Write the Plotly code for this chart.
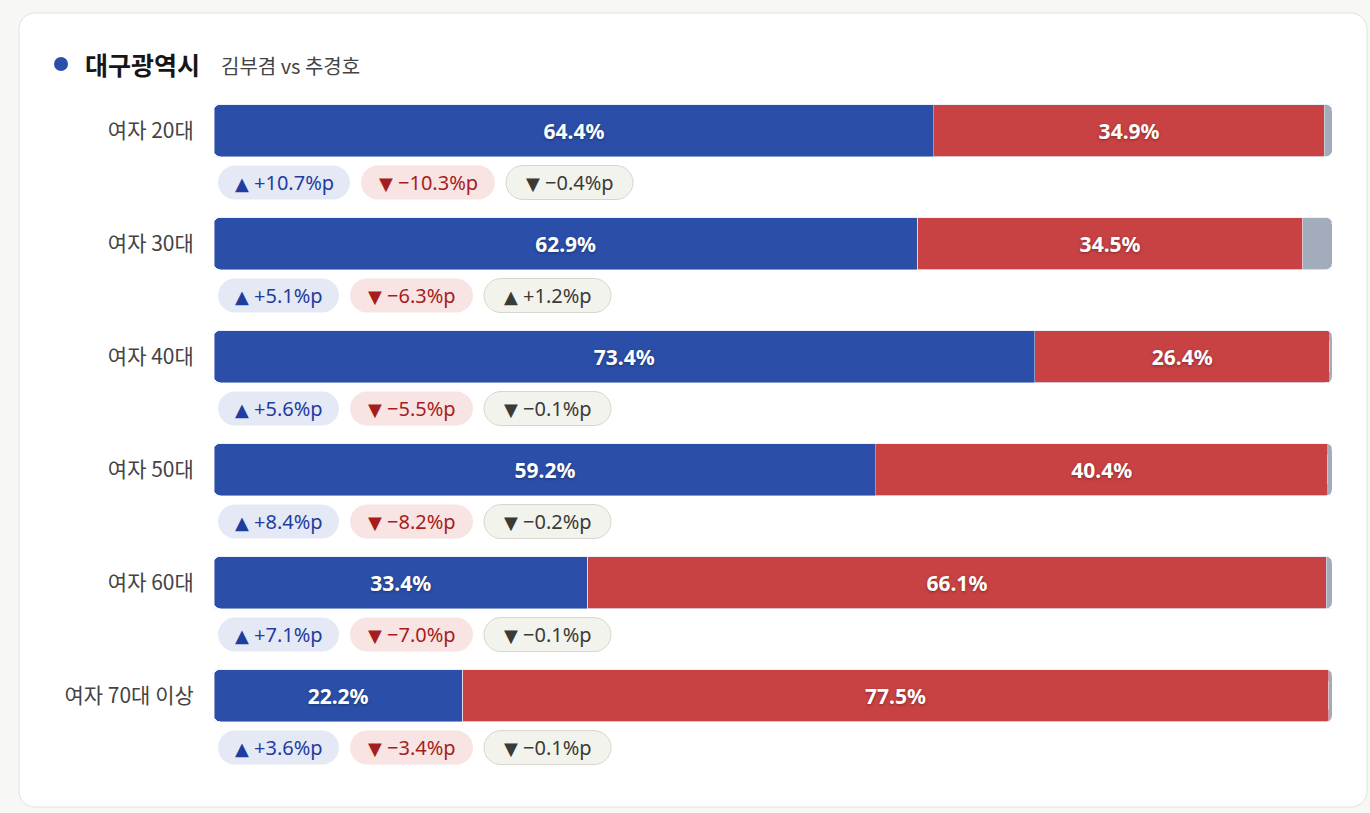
import plotly.graph_objects as go

# datos de la tarjeta
region = "대구광역시"
subtitle = "김부겸 vs 추경호"
groups = ["여자 20대", "여자 30대", "여자 40대", "여자 50대", "여자 60대", "여자 70대 이상"]
kim = [64.4, 62.9, 73.4, 59.2, 33.4, 22.2]
choo = [34.9, 34.5, 26.4, 40.4, 66.1, 77.5]
kim_diff = [10.7, 5.1, 5.6, 8.4, 7.1, 3.6]
choo_diff = [-10.3, -6.3, -5.5, -8.2, -7.0, -3.4]
other_diff = [-0.4, 1.2, -0.1, -0.2, -0.1, -0.1]

other = [round(100 - k - c, 1) for k, c in zip(kim, choo)]

BLUE = "#2b4fa8"
RED = "#c84143"
GRAY = "#a3acba"
FONT = "Noto Sans CJK KR, Noto Sans, sans-serif"

W, H = 1370, 813
L, R, T, B = 214, 38, 74, 27
PW, PH = W - L - R, H - T - B
Y_RANGE = [5.8, -0.5]
ROW_PX = PH / (Y_RANGE[0] - Y_RANGE[1])


def px_x(px):
    return (px - L) / PW


def px_y(py):
    return 1 - (py - T) / PH


def row_px(i):
    return T + (i - Y_RANGE[1]) * ROW_PX


def rounded_path(x0, y0, x1, y1, r):
    k = 0.5523 * r
    pts = [
        ("M", [(x0 + r, y0)]),
        ("L", [(x1 - r, y0)]),
        ("C", [(x1 - r + k, y0), (x1, y0 + r - k), (x1, y0 + r)]),
        ("L", [(x1, y1 - r)]),
        ("C", [(x1, y1 - r + k), (x1 - r + k, y1), (x1 - r, y1)]),
        ("L", [(x0 + r, y1)]),
        ("C", [(x0 + r - k, y1), (x0, y1 - r + k), (x0, y1 - r)]),
        ("L", [(x0, y0 + r)]),
        ("C", [(x0, y0 + r - k), (x0 + r - k, y0), (x0 + r, y0)]),
    ]
    out = ""
    for cmd, ps in pts:
        out += cmd + " ".join(f"{px_x(a):.5f},{px_y(b):.5f}" for a, b in ps)
    return out + "Z"


CHAR_W = {"▲": 15, "▼": 15, " ": 5, ".": 5.5, "%": 17.5, "p": 11, "+": 11, "−": 11}


def text_width(s):
    return sum(CHAR_W.get(ch, 11) for ch in s)


def pill_label(v):
    if v > 0:
        return "▲", f"+{v:.1f}%p"
    return "▼", f"−{abs(v):.1f}%p"


fig = go.Figure()

rows = list(range(len(groups)))
bar_font = dict(family="Noto Sans, sans-serif", size=21, color="white",
                weight="bold", shadow="0px 1px 3px rgba(0,0,0,0.35)")

# pila roja + gris, empieza donde termina el azul
fig.add_trace(go.Bar(
    y=rows, x=kim, orientation="h",
    marker=dict(color="rgba(0,0,0,0)"), hoverinfo="skip", width=0.46,
))
fig.add_trace(go.Bar(
    y=rows, x=choo, orientation="h",
    marker=dict(color=RED), width=0.46,
    text=[f"{v}%" for v in choo], textposition="inside",
    insidetextanchor="middle", textangle=0, textfont=bar_font,
))
fig.add_trace(go.Bar(
    y=rows, x=other, orientation="h",
    marker=dict(color=GRAY), width=0.46, hoverinfo="skip",
))
# azul en un eje invertido para redondear el extremo izquierdo
fig.add_trace(go.Bar(
    y=rows, x=[round(100 - v, 1) for v in kim], orientation="h", xaxis="x2",
    marker=dict(color="rgba(0,0,0,0)"), hoverinfo="skip", width=0.46,
))
fig.add_trace(go.Bar(
    y=rows, x=kim, orientation="h", xaxis="x2",
    marker=dict(color=BLUE), width=0.46,
    text=[f"{v}%" for v in kim], textposition="inside",
    insidetextanchor="middle", textangle=0, textfont=bar_font,
))

shapes = []
annotations = []

# tarjeta
shapes.append(dict(type="path", xref="paper", yref="paper", layer="below",
                   path=rounded_path(19, 13, 1367, 807, 16),
                   fillcolor="white", line=dict(color="#e1e1dc", width=1)))
# punto del titulo
shapes.append(dict(type="circle", xref="paper", yref="paper",
                   x0=px_x(54), x1=px_x(68), y0=px_y(57), y1=px_y(71),
                   fillcolor=BLUE, line=dict(width=0)))
annotations.append(dict(xref="paper", yref="paper", x=px_x(83), y=px_y(64),
                        xanchor="left", yanchor="middle", showarrow=False,
                        text=f"<b>{region}</b>",
                        font=dict(family=FONT, size=25, color="#161616")))
annotations.append(dict(xref="paper", yref="paper", x=px_x(219), y=px_y(65),
                        xanchor="left", yanchor="middle", showarrow=False,
                        text=subtitle,
                        font=dict(family=FONT, size=20, color="#444444")))

styles = [
    dict(bg="#e5e9f6", fg="#1f3d9e", border=None, pad=34),
    dict(bg="#f9e4e4", fg="#a61d1d", border=None, pad=36),
    dict(bg="#f3f3ee", fg="#3b3b36", border="#d6d6cc", pad=40),
]

for i in rows:
    cy = row_px(i) + 52
    x = 218
    for vals, st in zip([kim_diff, choo_diff, other_diff], styles):
        tri, num = pill_label(vals[i])
        w = text_width(tri + " " + num) + st["pad"]
        line = dict(color=st["border"], width=1) if st["border"] else dict(width=0)
        shapes.append(dict(type="path", xref="paper", yref="paper", layer="below",
                           path=rounded_path(x, cy - 17, x + w, cy + 17, 17),
                           fillcolor=st["bg"], line=line))
        label = (f"<span style='font-family:DejaVu Sans;font-size:18px'>{tri}</span>"
                 f" {num}")
        annotations.append(dict(xref="paper", yref="paper", x=px_x(x + w / 2),
                                y=px_y(cy), xanchor="center", yanchor="middle",
                                showarrow=False, text=label,
                                font=dict(family="Noto Sans, sans-serif", size=20,
                                          color=st["fg"])))
        x += w + 11

fig.update_layout(
    width=W, height=H,
    margin=dict(l=L, r=R, t=T, b=B),
    barmode="stack",
    barcornerradius=6,
    paper_bgcolor="#f7f7f5",
    plot_bgcolor="rgba(0,0,0,0)",
    showlegend=False,
    shapes=shapes,
    annotations=annotations,
    xaxis=dict(range=[0, 100], visible=False, fixedrange=True),
    xaxis2=dict(range=[100, 0], overlaying="x", visible=False, fixedrange=True),
    yaxis=dict(range=Y_RANGE, tickvals=rows, ticktext=groups,
               ticks="outside", ticklen=15, tickcolor="rgba(0,0,0,0)",
               showgrid=False, zeroline=False, showline=False, fixedrange=True,
               tickfont=dict(family=FONT, size=21, color="#444444")),
)

fig.write_html("out.html", config={"displayModeBar": False},
               post_script="document.body.style.margin='0';")
